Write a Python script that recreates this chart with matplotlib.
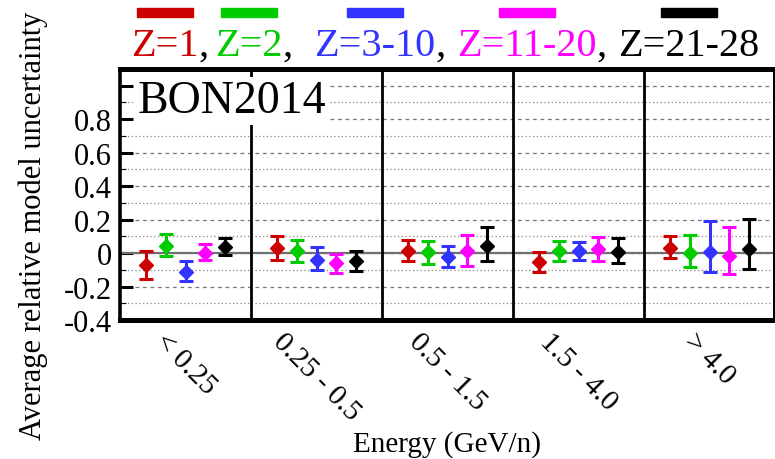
#
# import useful libraries
#
import matplotlib
matplotlib.use('Agg')
import matplotlib.pyplot as plt
from matplotlib.patches import Rectangle
from matplotlib.ticker import MultipleLocator

plt.rcParams['axes.unicode_minus'] = False
plt.rcParams['font.family'] = 'serif'
plt.rcParams['font.serif'] = ['Liberation Serif', 'Times New Roman', 'DejaVu Serif']
SERIF = ['Liberation Serif', 'DejaVu Serif']

#
# data
#
energy_bins = ['< 0.25', '0.25 - 0.5', '0.5 - 1.5', '1.5 - 4.0', '> 4.0']
series_names = ['Z=1', 'Z=2', 'Z=3-10', 'Z=11-20', 'Z=21-28']
series_colors = ['#cc0000', '#00cc00', '#3333ff', '#ff00ff', '#000000']

z1_val = [-0.070, 0.033, 0.012, -0.055, 0.028]
z1_hi = [0.012, 0.103, 0.077, 0.004, 0.103]
z1_lo = [-0.157, -0.044, -0.050, -0.113, -0.028]

z2_val = [0.045, 0.012, 0.006, 0.015, 0.002]
z2_hi = [0.113, 0.081, 0.071, 0.075, 0.109]
z2_lo = [-0.016, -0.056, -0.064, -0.048, -0.083]

z3_10_val = [-0.111, -0.040, -0.024, 0.012, 0.008]
z3_10_hi = [-0.048, 0.035, 0.042, 0.065, 0.194]
z3_10_lo = [-0.167, -0.100, -0.083, -0.044, -0.111]

z11_20_val = [0.000, -0.060, 0.010, 0.024, -0.018]
z11_20_hi = [0.053, -0.004, 0.109, 0.097, 0.158]
z11_20_lo = [-0.040, -0.117, -0.075, -0.050, -0.123]

z21_28_val = [0.036, -0.048, 0.042, 0.008, 0.024]
z21_28_hi = [0.090, 0.014, 0.156, 0.089, 0.204]
z21_28_lo = [-0.010, -0.107, -0.046, -0.060, -0.093]

ytick_vals = [-0.4, -0.2, 0, 0.2, 0.4, 0.6, 0.8, 1.0]
ytick_labels = ['-0.4', '-0.2', '0', '0.2', '0.4', '0.6', '0.8', '']

all_val = [z1_val, z2_val, z3_10_val, z11_20_val, z21_28_val]
all_hi = [z1_hi, z2_hi, z3_10_hi, z11_20_hi, z21_28_hi]
all_lo = [z1_lo, z2_lo, z3_10_lo, z11_20_lo, z21_28_lo]

#
# figure
#
W, H = 775, 460
fig = plt.figure(figsize=[W / 100, H / 100], dpi=100)
ax = fig.add_axes([120 / W, (H - 321) / H, 655 / W, 251 / H])

n_bins = len(energy_bins)
n_series = len(series_names)
step = 0.15
for j in range(n_series):
    xs = [i + 0.5 + (j - (n_series - 1) / 2) * step for i in range(n_bins)]
    v = all_val[j]
    yerr = [[v[i] - all_lo[j][i] for i in range(n_bins)],
            [all_hi[j][i] - v[i] for i in range(n_bins)]]
    ax.errorbar(xs, v, yerr=yerr, fmt='D', color=series_colors[j], ms=7.5,
                elinewidth=2.2, capsize=5, capthick=2.2, zorder=4)

# group separators and zero line
for i in range(1, n_bins):
    ax.axvline(i, color='black', lw=2, zorder=2)
ax.axhline(0, color='#707070', lw=1.6, zorder=1.5)

ax.set_xlim(0, n_bins)
ax.set_ylim(-0.4, 1.1)
ax.set_xticks([i + 0.5 for i in range(n_bins)])
ax.set_xticklabels(energy_bins, rotation=-45, ha='center', va='top',
                   fontsize=21, family=SERIF)
ax.tick_params(axis='x', length=0, pad=6)
ax.set_yticks(ytick_vals)
ax.set_yticklabels(ytick_labels, fontsize=22, family=SERIF)
ax.yaxis.set_minor_locator(MultipleLocator(0.1))
ax.tick_params(axis='y', which='major', direction='in', length=9, width=2.2, pad=6)
ax.tick_params(axis='y', which='minor', direction='in', length=4, width=0.8)

ax.grid(axis='y', which='major', color='#777777', ls=(0, (3, 3)), lw=0.9, zorder=1)
ax.grid(axis='y', which='minor', color='#888888', ls=(0, (1, 2)), lw=0.9, zorder=1)
ax.set_axisbelow(True)

ax.spines['left'].set_linewidth(2.6)
ax.spines['bottom'].set_linewidth(3.6)
ax.spines['top'].set_linewidth(3.6)
ax.spines['right'].set_linewidth(3.6)

ax.text(18 / 655, (321 - 113) / 251, 'BON2014', transform=ax.transAxes,
        fontsize=33, family=SERIF, va='baseline', ha='left', zorder=3,
        bbox=dict(facecolor='white', edgecolor='none', pad=2))

fig.text(33 / W, 1 - 226 / H, 'Average relative model uncertainty', rotation=90,
         ha='center', va='center', fontsize=22, family=SERIF)
fig.text(447 / W, 1 - 452 / H, 'Energy (GeV/n)', ha='center', va='baseline',
         fontsize=21, family=SERIF)

#
# legend: coloured bars above coloured labels
#
renderer = fig.canvas.get_renderer()
label_x = [131, 215, 314, 457, 618]
for j in range(n_series):
    t = fig.text(label_x[j] / W, 1 - 56 / H, series_names[j], color=series_colors[j],
                 fontsize=29, family=SERIF, va='baseline', ha='left')
    bb = t.get_window_extent(renderer)
    cx = (bb.x0 + bb.x1) / 2
    fig.patches.append(Rectangle(((cx - 28) / W, 1 - 18 / H), 56 / W, 9 / H,
                                 transform=fig.transFigure, color=series_colors[j]))
    if j < n_series - 1:
        fig.text(bb.x1 / W, 1 - 56 / H, ',', color='black', fontsize=29,
                 family=SERIF, va='baseline', ha='left')

plt.savefig('out.png')
plt.close()
